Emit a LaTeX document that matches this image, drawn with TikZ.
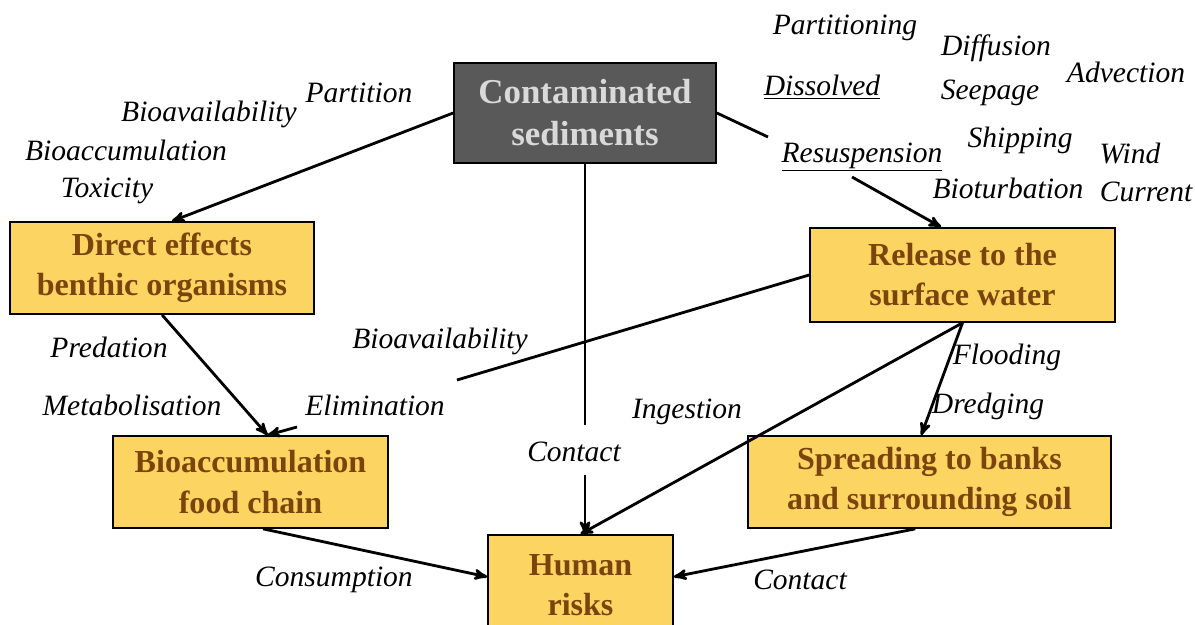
\documentclass[tikz,border=0pt]{standalone}
\usepackage{fontspec}
\setmainfont{Liberation Serif}
\usepackage{tikz}
\usetikzlibrary{arrows,positioning}
\tikzset{
  flownode/.style = {draw=black, line width=1.2pt, align=center, inner sep=0pt, text centered},
  flow_dark/.style = {flownode, fill=my_dark, text=my_light, font=\fontsize{24.8}{29.8}\selectfont\bfseries},
  flow_gold/.style = {flownode, fill=my_gold, text=my_brown, font=\fontsize{22.8}{28.5}\selectfont\bfseries},
  lbl/.style = {inner sep=0pt, font=\fontsize{21}{25}\selectfont\itshape}
}
\definecolor{my_dark}{RGB}{89, 89, 89}
\definecolor{my_light}{RGB}{217, 217, 217}
\definecolor{my_gold}{RGB}{252, 212, 98}
\definecolor{my_brown}{RGB}{122, 68, 12}

\begin{document}
\begin{tikzpicture}[x=0.025cm, y=-0.025cm, ->, >=stealth', line width=2pt]
    \useasboundingbox (0,0) rectangle (1195,624);
    \node (cs) [flow_dark, minimum width=6.55cm, minimum height=2.5cm] at (585,113) {Contaminated\\sediments};
    \node (de) [flow_gold, minimum width=7.6cm, minimum height=2.3cm] at (162,268) {Direct effects\\benthic organisms};
    \node (rel) [flow_gold, minimum width=7.625cm, minimum height=2.35cm] at (962.5,275) {Release to the\\surface water};
    \node (bio) [flow_gold, minimum width=6.875cm, minimum height=2.3cm] at (250.5,482) {Bioaccumulation\\food chain};
    \node (spr) [flow_gold, minimum width=9.075cm, minimum height=2.3cm] at (929.5,482) {Spreading to banks\\and surrounding soil};
    \node (hr) [flow_gold, minimum width=4.625cm, minimum height=2.5cm] at (580.5,585) {Human\\risks};

    \node (partitioning) [lbl] at (845,28) {Partitioning};
    \node (diffusion) [lbl] at (996,48) {Diffusion};
    \node (advection) [lbl] at (1126,72) {Advection};
    \node (dissolved) [lbl] at (822,87) {\underline{Dissolved}};
    \node (seepage) [lbl] at (990,93) {Seepage};
    \node (shipping) [lbl] at (1020,140) {Shipping};
    \node (wind) [lbl] at (1130,153) {Wind};
    \node (resuspension) [lbl] at (862,157) {\underline{Resuspension}};
    \node (bioturbation) [lbl] at (1008,188) {Bioturbation};
    \node (current) [lbl] at (1146,192) {Current};
    \node (partition) [lbl] at (359,93) {Partition};
    \node (bioav_top) [lbl] at (209,114) {Bioavailability};
    \node (bioacc) [lbl] at (126,150) {Bioaccumulation};
    \node (toxicity) [lbl] at (107,191) {Toxicity};
    \node (predation) [lbl] at (109,347) {Predation};
    \node (metabolisation) [lbl] at (132,405) {Metabolisation};
    \node (bioav_mid) [lbl] at (440,341) {Bioavailability};
    \node (elimination) [lbl] at (375,405) {Elimination};
    \node (flooding) [lbl] at (1007,357) {Flooding};
    \node (dredging) [lbl] at (988,406) {Dredging};
    \node (ingestion) [lbl] at (687,412) {Ingestion};
    \node (contact_mid) [lbl] at (574,452) {Contact};
    \node (consumption) [lbl] at (334,580) {Consumption};
    \node (contact_right) [lbl] at (800,580) {Contact};

    \coordinate (resus_a) at (768,137);
    \coordinate (resus_b) at (852,177);
    \coordinate (elim_a) at (457,380);
    \coordinate (elim_b) at (297,427);
    \coordinate (contact_a) at (585,425);
    \coordinate (contact_b) at (585,475);

    \draw (cs.west) -- (de.78);
    \draw[-] (cs.east) -- (resus_a);
    \draw (resus_b) -- (rel.114);
    \draw[-] (cs.south) -- (contact_a);
    \draw (contact_b) -- (hr.north -| contact_b);
    \draw (de.south) -- (bio.70);
    \draw[-] (rel.west) -- (elim_a);
    \draw (elim_b) -- (bio.70);
    \draw (rel.south) -- (spr.100);
    \draw (rel.south) -- (hr.north);
    \draw (bio.-75) -- (hr.175);
    \draw (spr.253) -- (hr.5);
\end{tikzpicture}
\end{document}
